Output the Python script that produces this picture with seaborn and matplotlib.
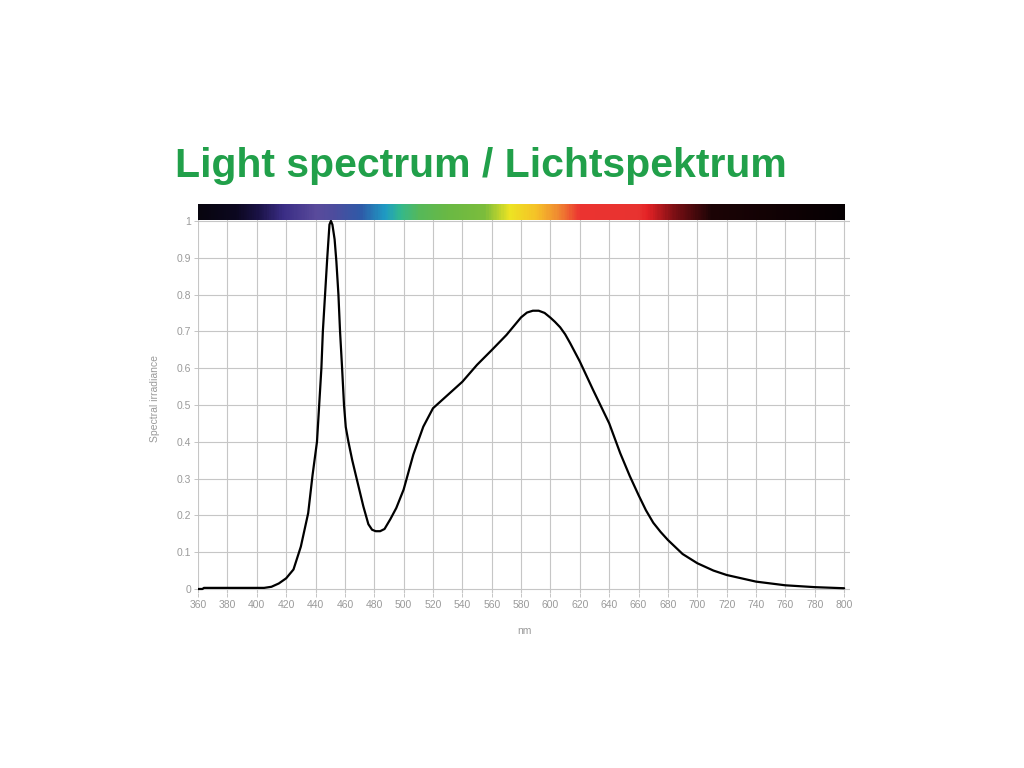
import numpy as np
import pandas as pd
import matplotlib
matplotlib.use("Agg")
import matplotlib.pyplot as plt
import seaborn as sns
from matplotlib.colors import LinearSegmentedColormap

# ---------- data ----------
wavelength = [360, 363, 364, 380, 400, 405, 410, 415, 420, 425, 430, 435, 438,
              441, 442.5, 444, 445, 446.5, 448, 449.5, 450.5, 451.5, 453, 454.2,
              455.6, 456.7, 458.1, 459.4, 460.6, 462.4, 465, 468, 472.6, 476,
              478.5, 481, 484, 487, 491, 495, 500, 506.6, 513.4, 520, 530, 540,
              550, 560, 570, 575, 580, 584, 588, 592, 596, 600, 603, 606.6, 610,
              613.4, 620, 629, 640, 647.5, 654, 660, 665, 670, 675, 680, 690, 700,
              711, 720, 740, 760, 780, 800]
irradiance = [0.0, 0.0, 0.003, 0.003, 0.003, 0.003, 0.006, 0.015, 0.029, 0.053,
              0.115, 0.206, 0.31, 0.40, 0.50, 0.60, 0.70, 0.80, 0.90, 0.99, 1.0,
              0.99, 0.95, 0.89, 0.80, 0.70, 0.60, 0.50, 0.44, 0.40, 0.35, 0.30,
              0.224, 0.176, 0.161, 0.157, 0.157, 0.163, 0.19, 0.22, 0.27, 0.365,
              0.441, 0.491, 0.527, 0.563, 0.609, 0.649, 0.69, 0.714, 0.738, 0.751,
              0.756, 0.756, 0.75, 0.737, 0.726, 0.711, 0.692, 0.668, 0.618, 0.541,
              0.45, 0.369, 0.307, 0.255, 0.214, 0.18, 0.155, 0.133, 0.095, 0.07,
              0.05, 0.038, 0.02, 0.01, 0.005, 0.002]

# colour strip along the top (wavelength -> colour)
strip_nm = [360, 385, 400, 417, 440, 452, 470, 487, 497, 510, 530, 555, 572,
            590, 605, 620, 660, 666, 685, 710, 800]
strip_colors = ["#08050f", "#0c0820", "#1a1245", "#3a2d85", "#5a4b9c", "#4d4d9e",
                "#2f5aa8", "#1f9cc4", "#33b88e", "#56b85a", "#6ab944", "#7cbd3c",
                "#ede423", "#f6c228", "#f08a32", "#ec3431", "#e83330", "#e52226",
                "#7a0f14", "#1c0406", "#060003"]

x_ticks = list(range(360, 801, 20))
y_ticks = [0, 0.1, 0.2, 0.3, 0.4, 0.5, 0.6, 0.7, 0.8, 0.9, 1]
y_tick_labels = ["0", "0.1", "0.2", "0.3", "0.4", "0.5", "0.6", "0.7", "0.8", "0.9", "1"]

df = pd.DataFrame({"nm": wavelength, "value": irradiance})

sns.set_style("whitegrid")
plt.rcParams["font.family"] = ["Liberation Sans", "DejaVu Sans"]

fig = plt.figure(figsize=(10.24, 7.68), dpi=100)
ax = fig.add_axes([0.1934, 0.2283, 0.6367, 0.5061])

sns.lineplot(data=df, x="nm", y="value", color="black", linewidth=1.6, ax=ax, zorder=3)

# spectrum strip
pos = [(n - strip_nm[0]) / (strip_nm[-1] - strip_nm[0]) for n in strip_nm]
cmap = LinearSegmentedColormap.from_list("spec", list(zip(pos, strip_colors)))
grad = np.linspace(0, 1, 600).reshape(1, -1)
ax.imshow(grad, cmap=cmap, aspect="auto", extent=[strip_nm[0], strip_nm[-1], 1.003, 1.046],
          zorder=4, interpolation="bilinear")

ax.set_xlim(360, 804)
ax.set_ylim(-0.01, 1.046)
ax.set_xticks(x_ticks)
ax.set_yticks(y_ticks)
ax.set_yticklabels(y_tick_labels)
ax.grid(True, color="#c6c6c6", linewidth=0.8)
for s in ax.spines.values():
    s.set_visible(False)
ax.tick_params(axis="both", labelsize=7.5, labelcolor="#9a9a9a", color="#bbbbbb",
               length=3, width=0.6, left=True, bottom=True, pad=2)
ax.set_xlabel("nm", fontsize=7.5, color="#9a9a9a", labelpad=12)
ax.set_ylabel("Spectral irradiance", fontsize=7.5, color="#9a9a9a", labelpad=12)

fig.text(0.171, 0.77, "Light spectrum / Lichtspektrum", fontsize=29.5, fontweight="bold",
         color="#21a04a", ha="left", va="baseline")

fig.savefig("out.png", dpi=100, facecolor="white")
